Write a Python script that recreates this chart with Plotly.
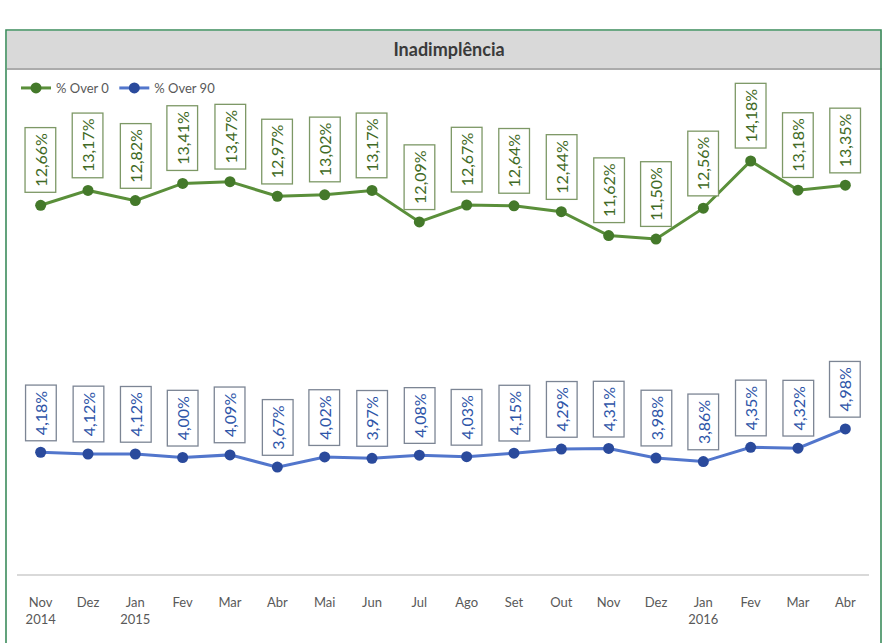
import plotly.graph_objects as go

categories = ["Nov 2014", "Dez 2014", "Jan 2015", "Fev 2015", "Mar 2015", "Abr 2015",
              "Mai 2015", "Jun 2015", "Jul 2015", "Ago 2015", "Set 2015", "Out 2015",
              "Nov 2015", "Dez 2015", "Jan 2016", "Fev 2016", "Mar 2016", "Abr 2016"]
tick_labels = ["Nov<br>2014", "Dez", "Jan<br>2015", "Fev", "Mar", "Abr", "Mai", "Jun",
               "Jul", "Ago", "Set", "Out", "Nov", "Dez", "Jan<br>2016", "Fev", "Mar", "Abr"]
over0 = [12.66, 13.17, 12.82, 13.41, 13.47, 12.97, 13.02, 13.17, 12.09, 12.67,
         12.64, 12.44, 11.62, 11.50, 12.56, 14.18, 13.18, 13.35]
over90 = [4.18, 4.12, 4.12, 4.00, 4.09, 3.67, 4.02, 3.97, 4.08, 4.03,
          4.15, 4.29, 4.31, 3.98, 3.86, 4.35, 4.32, 4.98]

W, H = 882, 643
L, R, T, B = 17, 13, 108, 69
pw, ph = W - L - R, H - T - B


def px(xpix):
    return (xpix - L) / pw


def py(ypix):
    return (H - B - ypix) / ph


def fmt(v):
    return f"{v:.2f}".replace(".", ",") + "%"


green_line = "#5a8f3a"
green_mark = "#44792a"
blue_line = "#5276cc"
blue_mark = "#2a4a9c"

fig = go.Figure()
fig.add_trace(go.Scatter(x=categories, y=over0, mode="lines+markers", name="% Over 0",
                         line=dict(color=green_line, width=3),
                         marker=dict(color=green_mark, size=11)))
fig.add_trace(go.Scatter(x=categories, y=over90, mode="lines+markers", name="% Over 90",
                         line=dict(color=blue_line, width=3),
                         marker=dict(color=blue_mark, size=11)))

annotations = []
for c, v in zip(categories, over0):
    annotations.append(dict(x=c, y=v, xref="x", yref="y", text=fmt(v), showarrow=False,
                            textangle=-90, yanchor="bottom", yshift=12,
                            font=dict(family="Lato", size=16, color="#3f6a25"),
                            bordercolor="#7d9866", borderwidth=1.3, borderpad=5,
                            bgcolor="white"))
for c, v in zip(categories, over90):
    annotations.append(dict(x=c, y=v, xref="x", yref="y", text=fmt(v), showarrow=False,
                            textangle=-90, yanchor="bottom", yshift=11,
                            font=dict(family="Lato", size=16, color="#2e55a8"),
                            bordercolor="#7c8594", borderwidth=1.3, borderpad=5,
                            bgcolor="white"))

shapes = [
    # title band
    dict(type="rect", xref="paper", yref="paper", x0=px(7), x1=px(882), y0=py(69), y1=py(31),
         fillcolor="#d9d9d9", line=dict(width=0), layer="below"),
    dict(type="line", xref="paper", yref="paper", x0=px(7), x1=px(882), y0=py(69), y1=py(69),
         line=dict(color="#ababab", width=2)),
    # outer frame
    dict(type="rect", xref="paper", yref="paper", x0=px(6), x1=px(881), y0=py(646), y1=py(30),
         line=dict(color="#3c8c5c", width=1.6), fillcolor="rgba(0,0,0,0)"),
]

fig.update_layout(
    width=W, height=H,
    margin=dict(l=L, r=R, t=T, b=B, autoexpand=False),
    paper_bgcolor="white", plot_bgcolor="white",
    title=dict(text="<b>Inadimplência</b>", x=449 / W, xanchor="center",
               y=1 - 50 / H, yanchor="middle", yref="container",
               font=dict(family="Lato", size=18, color="#3a3a3a")),
    showlegend=True,
    legend=dict(orientation="h", x=px(16), xanchor="left", y=py(73), yanchor="top",
                font=dict(family="Lato", size=13, color="#595959"),
                bgcolor="rgba(0,0,0,0)", itemwidth=30, tracegroupgap=0),
    xaxis=dict(type="category", tickmode="array", tickvals=categories, ticktext=tick_labels,
               showgrid=False, showline=True, linecolor="#d9d9d9", linewidth=1.5,
               ticks="", ticklabelstandoff=16,
               tickfont=dict(family="Lato", size=13, color="#595959"),
               range=[-0.5, len(categories) - 0.5], fixedrange=True),
    yaxis=dict(range=[0, 16], visible=False, showgrid=False, zeroline=False, fixedrange=True),
    annotations=annotations,
    shapes=shapes,
)

fig.write_html("out.html", config={"displayModeBar": False},
               post_script="document.body.style.margin='0';document.body.style.overflow='hidden';")
